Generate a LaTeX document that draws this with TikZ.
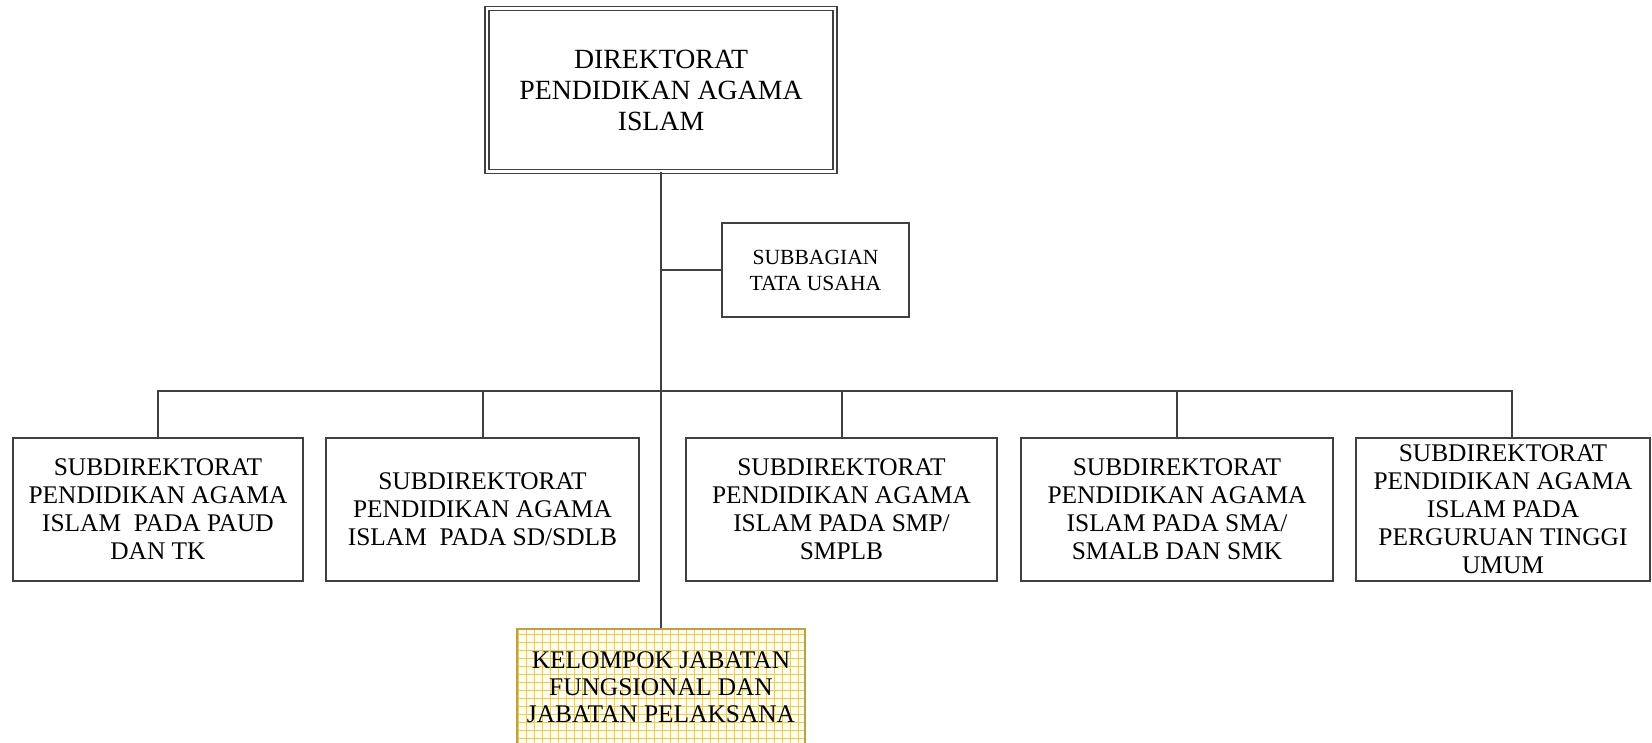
\documentclass[tikz,border=0pt]{standalone}
\usepackage{fontspec}
\setmainfont{Liberation Serif}
\usetikzlibrary{calc}
\definecolor{edge}{HTML}{404040}
\definecolor{gridln}{HTML}{EBC957}
\definecolor{gridbg}{HTML}{FFFDEB}

\begin{document}
\begin{tikzpicture}
  [
    x=0.5pt, y=-0.5pt,
    link/.style={draw=edge, line width=1pt},
    spine/.style={draw=edge, line width=1.3pt},
    dirbox/.style={draw=edge, double=white, double distance=1.2pt, line width=0.7pt,
      align=center, minimum width=174pt, minimum height=81.5pt,
      font=\fontsize{13.9}{15.5}\selectfont},
    tubox/.style={draw=edge, line width=1pt, align=center, minimum width=93.5pt,
      minimum height=47pt, font=\fontsize{10.8}{13}\selectfont},
    unitbox/.style={draw=edge, line width=1pt, align=center, minimum height=71.5pt,
      inner sep=1pt, font=\fontsize{12.7}{14}\selectfont},
    fgbox/.style={draw=gridln!80!black, line width=0.8pt, fill=gridbg, align=center,
      minimum width=144pt, minimum height=58pt, font=\fontsize{12.7}{13.5}\selectfont,
      path picture={\draw [gridln, line width=0.5pt] (path picture bounding box.south west)
        grid [step=4pt] (path picture bounding box.north east);}}
  ]
  \useasboundingbox (0, 0) rectangle (1652, 743);
  \node [dirbox] at (661, 90) (dir) {DIREKTORAT\\PENDIDIKAN AGAMA\\ISLAM};
  \node [tubox] at (815.5, 270) (tu) {SUBBAGIAN\\TATA USAHA};
  \node [unitbox, minimum width=145pt] at (158, 509.5) (s1)
    {SUBDIREKTORAT\\PENDIDIKAN AGAMA\\ISLAM\ \ PADA PAUD\\DAN TK};
  \node [unitbox, minimum width=156.5pt] at (482.5, 509.5) (s2)
    {SUBDIREKTORAT\\PENDIDIKAN AGAMA\\ISLAM\ \ PADA SD/SDLB};
  \node [unitbox, minimum width=155.5pt] at (841.5, 509.5) (s3)
    {SUBDIREKTORAT\\PENDIDIKAN AGAMA\\ISLAM PADA SMP/\\SMPLB};
  \node [unitbox, minimum width=156pt] at (1177, 509.5) (s4)
    {SUBDIREKTORAT\\PENDIDIKAN AGAMA\\ISLAM PADA SMA/\\SMALB DAN SMK};
  \node [unitbox, minimum width=147pt] at (1503, 509.5) (s5)
    {SUBDIREKTORAT\\PENDIDIKAN AGAMA\\ISLAM PADA\\PERGURUAN TINGGI\\UMUM};
  \node [fgbox] at (661, 687) (kj) {KELOMPOK JABATAN\\FUNGSIONAL DAN\\JABATAN PELAKSANA};
  \coordinate (bus) at (661, 391);
  \draw [spine] (dir.south) -- (kj.north);
  \draw [link] (dir.south |- tu.west) -- (tu.west);
  \foreach \unit in {s1, s2, s3, s4}{
    \draw [link] (bus) -| (\unit.north);
  }
  \draw [link] (bus) -| ([xshift=4.5pt]s5.north);

\end{tikzpicture}
\end{document}
